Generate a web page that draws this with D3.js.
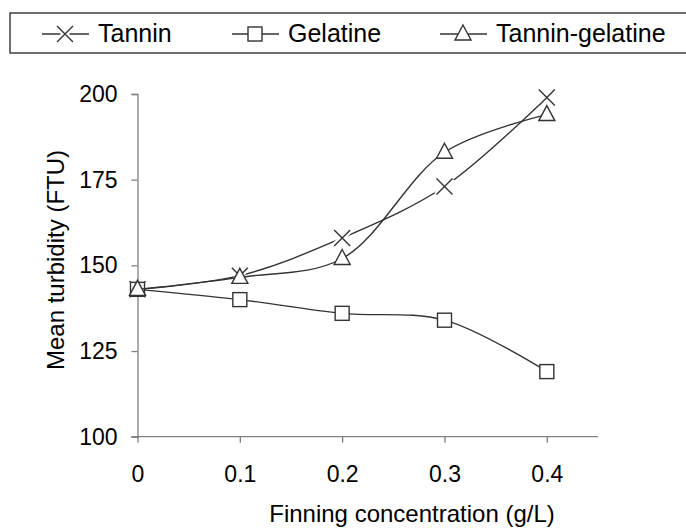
<!DOCTYPE html>
<html>
<head>
<meta charset="utf-8">
<script src="https://cdn.jsdelivr.net/npm/d3@7"></script>
<style>
  body { margin: 0; background: #fff; }
  svg { display: block; font-family: "Liberation Sans", Arial, sans-serif; }
</style>
</head>
<body>
<script>
// finning concentrations (g/L)
const concentrations = [0, 0.1, 0.2, 0.3, 0.4];
// mean turbidity (FTU) per series
const tannin = [143, 147, 158, 173, 199];
const gelatine = [143, 140, 136, 134, 119];
const tanninGelatine = [143, 146.5, 152, 183, 194];
const seriesNames = ['Tannin', 'Gelatine', 'Tannin-gelatine'];
const yTicks = [100, 125, 150, 175, 200];
const xTicks = [0, 0.1, 0.2, 0.3, 0.4];

const width = 686;
const height = 529;
const ink = '#333';

const svg = d3.select('body')
  .append('svg')
  .attr('width', width)
  .attr('height', height);

const x = d3.scaleLinear().domain([0, 0.45]).range([137.5, 598]);
const y = d3.scaleLinear().domain([100, 200]).range([436.7, 94]);

// axes
const xAxis = svg.append('g')
  .attr('transform', `translate(0,${y(100)})`)
  .call(d3.axisBottom(x).tickValues(xTicks).tickSize(6).tickPadding(23)
    .tickFormat(d => d === 0 ? '0' : d3.format('.1f')(d)));

const yAxis = svg.append('g')
  .attr('transform', `translate(${x(0)},0)`)
  .call(d3.axisLeft(y).tickValues(yTicks).tickSize(6).tickPadding(14));

[xAxis, yAxis].forEach(a => {
  a.select('.domain').attr('stroke', '#808080').attr('stroke-width', 1.3);
  a.selectAll('.tick line').attr('stroke', '#808080').attr('stroke-width', 1.3);
  a.selectAll('.tick text')
    .attr('fill', '#000')
    .style('font-size', '23px')
    .style('font-family', '"Liberation Sans", Arial, sans-serif');
});
// x-axis line continues out to the y tick at 100
xAxis.select('.domain').attr('d', `M${x(0) - 6},0H${x(0.45)}`);

// axis titles
svg.append('text')
  .attr('x', 412)
  .attr('y', 522)
  .attr('text-anchor', 'middle')
  .style('font-size', '24px')
  .text('Finning concentration (g/L)');

svg.append('text')
  .attr('transform', 'translate(64,260) rotate(-90)')
  .attr('text-anchor', 'middle')
  .style('font-size', '24px')
  .text('Mean turbidity (FTU)');

// markers
function drawMarker(g, type, cx, cy) {
  if (type === 'x') {
    const s = 8;
    const p = `M${cx - s},${cy - s}L${cx + s},${cy + s}M${cx - s},${cy + s}L${cx + s},${cy - s}`;
    g.append('path').attr('d', p).attr('stroke', '#fff').attr('stroke-width', 6);
    g.append('path').attr('d', p).attr('stroke', ink).attr('stroke-width', 1.4).attr('fill', 'none');
  } else if (type === 'square') {
    g.append('rect')
      .attr('x', cx - 7).attr('y', cy - 7).attr('width', 14).attr('height', 14)
      .attr('fill', '#fff').attr('stroke', ink).attr('stroke-width', 1.4);
  } else {
    g.append('path')
      .attr('d', `M${cx},${cy - 9}L${cx + 8},${cy + 6}L${cx - 8},${cy + 6}Z`)
      .attr('fill', '#fff').attr('stroke', ink).attr('stroke-width', 1.4);
  }
}

const series = [
  { name: seriesNames[0], values: tannin, marker: 'x' },
  { name: seriesNames[1], values: gelatine, marker: 'square' },
  { name: seriesNames[2], values: tanninGelatine, marker: 'triangle' }
];

const line = d3.line()
  .x((d, i) => x(concentrations[i]))
  .y(d => y(d))
  .curve(d3.curveCatmullRom.alpha(0.5));

series.forEach(s => {
  const g = svg.append('g');
  g.append('path')
    .attr('d', line(s.values))
    .attr('fill', 'none')
    .attr('stroke', ink)
    .attr('stroke-width', 1.4);
  s.values.forEach((v, i) => drawMarker(g, s.marker, x(concentrations[i]), y(v)));
});

// legend
const legend = svg.append('g');
legend.append('rect')
  .attr('x', 10).attr('y', 13).attr('width', 700).attr('height', 40)
  .attr('fill', '#fff').attr('stroke', ink).attr('stroke-width', 1.4);

const legendX = [42, 232, 440];
series.forEach((s, i) => {
  const g = legend.append('g');
  const x0 = legendX[i];
  g.append('line')
    .attr('x1', x0).attr('x2', x0 + 47)
    .attr('y1', 34).attr('y2', 34)
    .attr('stroke', ink).attr('stroke-width', 1.4);
  drawMarker(g, s.marker, x0 + 23, 34);
  g.append('text')
    .attr('x', x0 + 56)
    .attr('y', 42)
    .style('font-size', '25px')
    .text(s.name);
});
</script>
</body>
</html>
